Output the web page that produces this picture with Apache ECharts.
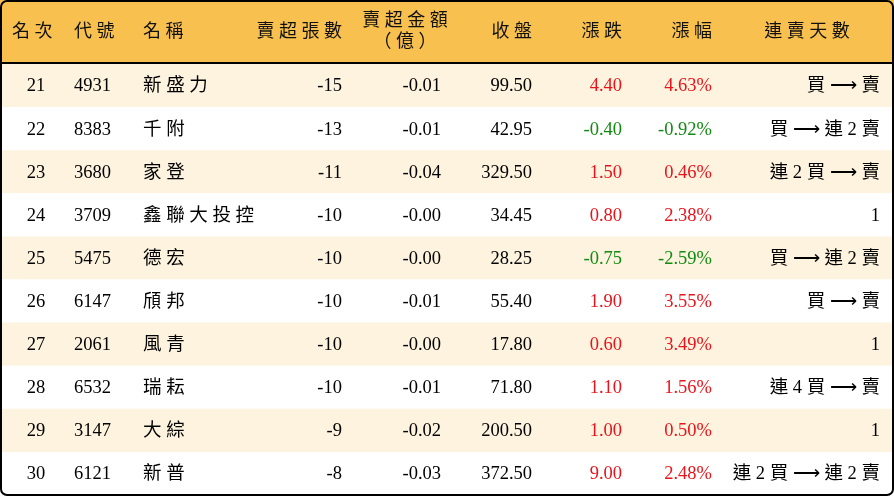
<!DOCTYPE html><html><head><meta charset="utf-8">
<script src="https://cdn.jsdelivr.net/npm/echarts@6/dist/echarts.min.js"></script>
<style>html,body{margin:0;padding:0;background:#fff}#c{width:894px;height:496px}</style></head><body><div id="c"></div>
<script>
const headers = ['名次','代號','名稱','賣超張數','賣超金額\n（億）','收盤','漲跌','漲幅','連賣天數'];
const ranks = [21,22,23,24,25,26,27,28,29,30];
const codes = ['4931','8383','3680','3709','5475','6147','2061','6532','3147','6121'];
const names = ['新盛力','千附','家登','鑫聯大投控','德宏','頎邦','風青','瑞耘','大綜','新普'];
const netLots = [-15,-13,-11,-10,-10,-10,-10,-10,-9,-8];
const netAmount = ['-0.01','-0.01','-0.04','-0.00','-0.00','-0.01','-0.00','-0.01','-0.02','-0.03'];
const closes = ['99.50','42.95','329.50','34.45','28.25','55.40','17.80','71.80','200.50','372.50'];
const changes = ['4.40','-0.40','1.50','0.80','-0.75','1.90','0.60','1.10','1.00','9.00'];
const pcts = ['4.63%','-0.92%','0.46%','2.38%','-2.59%','3.55%','3.49%','1.56%','0.50%','2.48%'];
const streaks = ['買 → 賣','買 → 連 2 賣','連 2 買 → 賣','1','買 → 連 2 賣','買 → 賣','1','連 4 買 → 賣','1','連 2 買 → 連 2 賣'];

const FONT = '"Liberation Serif","Noto Sans CJK TC",serif';
const spCJK = s => s.replace(/([\u4e00-\u9fff\uff08\uff09])(?=[\u4e00-\u9fff\uff08\uff09])/g,'$1 ');
const arrow = s => s.replace(/→/g,'⟶');
const cols = [[36,'center'],[74,'left'],[143,'left'],[342,'right'],[441,'right'],[532,'right'],[622,'right'],[712,'right'],[880,'right']];
const hdrCols = [[12,'left'],[74,'left'],[143,'left'],[342,'right'],[405,'center'],[532,'right'],[622,'right'],[712,'right'],[807,'center']];

const chart = echarts.init(document.getElementById('c'));
const data = ranks.map((r,i)=>[i]);
chart.setOption({
  animation:false,
  grid:{left:1,right:1,top:64,bottom:1},
  xAxis:{type:'value',min:0,max:892,show:false},
  yAxis:{type:'category',data:ranks.map(String),inverse:true,show:false},
  graphic:[
    {type:'rect',shape:{x:0,y:0,width:894,height:63},style:{fill:'#F8C04E'},z:0},
    {type:'line',shape:{x1:0,y1:63,x2:894,y2:63},style:{stroke:'#000',lineWidth:2},z:5},
    ...headers.map((h,j)=>({type:'text',x:hdrCols[j][0],y:h.includes('\n')?32:32,
      style:{text:h.split('\n').map(spCJK).join('\n'),font:'18px '+FONT,fill:'#111',align:hdrCols[j][1],verticalAlign:'middle',lineHeight:21},z:6})),
    {type:'rect',shape:{x:1,y:1,width:892,height:494,r:6},style:{fill:'none',stroke:'#000',lineWidth:2},z:10}
  ],
  series:[{type:'custom',data:data,renderItem:(params,api)=>{
    const i=api.value(0);
    const c=api.coord([0,i]); const sz=api.size([0,1]);
    const h=sz[1], y=c[1];
    const vals=[ranks[i],codes[i],spCJK(names[i]),netLots[i],netAmount[i],closes[i],changes[i],pcts[i],arrow(streaks[i])];
    const ch=parseFloat(changes[i]);
    const col=ch>0?'#E8141B':(ch<0?'#138A13':'#000');
    const kids=[{type:'rect',shape:{x:0,y:y-h/2,width:894,height:h},style:{fill:i%2===0?'#FDF3DE':'#FFFFFF'}}];
    vals.forEach((v,j)=>{
      kids.push({type:'text',x:cols[j][0],y:y+1,style:{text:String(v),font:'18.5px '+FONT,fill:(j===6||j===7)?col:'#000',align:cols[j][1],verticalAlign:'middle'}});
    });
    return {type:'group',children:kids};
  }}]
});
</script></body></html>
